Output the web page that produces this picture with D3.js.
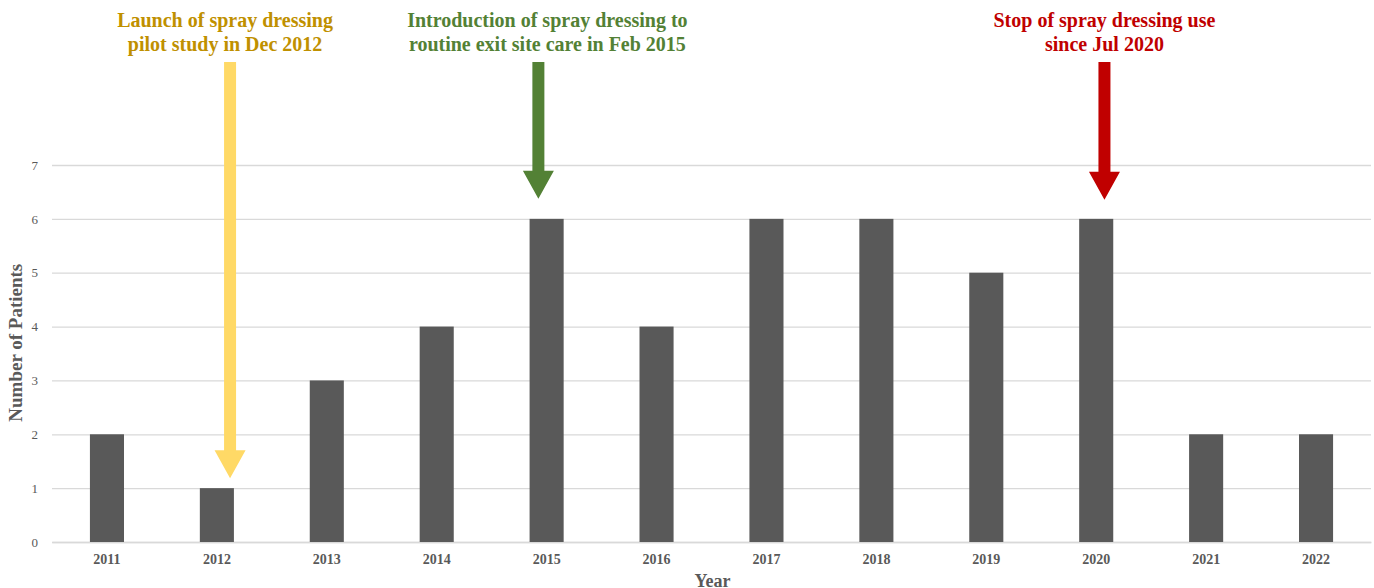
<!DOCTYPE html>
<html lang="en">
<head>
    <meta charset="UTF-8">
    <title>Number of Patients by Year</title>
    <style>
        html, body { margin: 0; padding: 0; background: #fff; overflow: hidden; }
        svg { display: block; font-family: "Liberation Serif", "Times New Roman", serif; }
    </style>
</head>
<body>
    <div id="chart"></div>
    <script src="https://d3js.org/d3.v7.min.js"></script>
    <script>
        // 数据
        const years = ['2011', '2012', '2013', '2014', '2015', '2016', '2017', '2018', '2019', '2020', '2021', '2022'];
        const patients = [2, 1, 3, 4, 6, 4, 6, 6, 5, 6, 2, 2];
        const yTicks = [0, 1, 2, 3, 4, 5, 6, 7];

        // annotations: year the arrow points at, first / second text line, colours
        const noteYears = ['2012', '2015', '2020'];
        const noteLine1 = ['Launch of spray dressing', 'Introduction of spray dressing to', 'Stop of spray dressing use'];
        const noteLine2 = ['pilot study in Dec 2012', 'routine exit site care in Feb 2015', 'since Jul 2020'];
        const noteTextColor = ['#bf9000', '#538135', '#c00000'];
        const noteArrowColor = ['#ffd966', '#538135', '#c00000'];

        const width = 1374, height = 588;
        const margin = { top: 165, right: 3, bottom: 46, left: 52 };
        const innerWidth = width - margin.left - margin.right;
        const innerHeight = height - margin.top - margin.bottom;

        const svg = d3.select('#chart').append('svg')
            .attr('width', width)
            .attr('height', height);

        const g = svg.append('g')
            .attr('transform', `translate(${margin.left}, ${margin.top})`);

        const xScale = d3.scaleBand()
            .domain(years)
            .range([0, innerWidth])
            .paddingInner(0.69)
            .paddingOuter(0.345);

        const yScale = d3.scaleLinear()
            .domain([0, 7])
            .range([innerHeight, 0]);

        // 网格线 + y 轴
        const yAxis = d3.axisLeft(yScale)
            .tickValues(yTicks)
            .tickSize(-innerWidth)
            .tickPadding(14)
            .tickFormat(d3.format('d'));

        const yAxisGroup = g.append('g').call(yAxis);
        yAxisGroup.select('.domain').remove();
        yAxisGroup.selectAll('.tick line').attr('stroke', '#d9d9d9').attr('stroke-width', 1.3);
        yAxisGroup.selectAll('.tick text')
            .attr('fill', '#595959')
            .attr('font-size', '13px')
            .attr('font-family', '"Liberation Serif", serif');

        // x 轴
        const xAxis = d3.axisBottom(xScale).tickSize(0).tickPadding(12);
        const xAxisGroup = g.append('g')
            .attr('transform', `translate(0, ${innerHeight})`)
            .call(xAxis);
        xAxisGroup.select('.domain').attr('stroke', '#d9d9d9').attr('stroke-width', 1.3);
        xAxisGroup.selectAll('.tick text')
            .attr('fill', '#595959')
            .attr('font-size', '14px')
            .attr('font-weight', 'bold')
            .attr('font-family', '"Liberation Serif", serif');

        // 柱子
        g.selectAll('.bar').data(years).join('rect')
            .attr('class', 'bar')
            .attr('x', d => xScale(d))
            .attr('y', (d, i) => yScale(patients[i]))
            .attr('width', xScale.bandwidth())
            .attr('height', (d, i) => innerHeight - yScale(patients[i]))
            .attr('fill', '#595959');

        // 轴标题
        g.append('text')
            .text('Year')
            .attr('x', innerWidth / 2 + 1)
            .attr('y', innerHeight + 45)
            .attr('text-anchor', 'middle')
            .attr('fill', '#595959')
            .attr('font-size', '18px')
            .attr('font-weight', 'bold');

        g.append('text')
            .text('Number of Patients')
            .attr('transform', `translate(${-30}, ${yScale(3.7)}) rotate(-90)`)
            .attr('text-anchor', 'middle')
            .attr('fill', '#595959')
            .attr('font-size', '19px')
            .attr('font-weight', 'bold');

        // 注释箭头
        const step = xScale.step();
        const arrowShift = [0.12, -0.075, 0.075];   // fraction of a band step, month within the year
        const tipGap = [10, 20, 19];
        const textShift = [-5, 9, 0];
        const shaftW = 12, headW = 31, headH = 28;
        const arrowTop = 62 - margin.top;

        noteYears.forEach((yr, i) => {
            const cx = xScale(yr) + xScale.bandwidth() / 2 + arrowShift[i] * step;
            const tipY = yScale(patients[years.indexOf(yr)]) - tipGap[i];
            const headY = tipY - headH;
            const path = d3.path();
            path.moveTo(cx - shaftW / 2, arrowTop);
            path.lineTo(cx + shaftW / 2, arrowTop);
            path.lineTo(cx + shaftW / 2, headY);
            path.lineTo(cx + headW / 2, headY);
            path.lineTo(cx, tipY);
            path.lineTo(cx - headW / 2, headY);
            path.lineTo(cx - shaftW / 2, headY);
            path.closePath();
            g.append('path')
                .attr('d', path.toString())
                .attr('fill', noteArrowColor[i]);

            const tx = cx + textShift[i];
            const t = g.append('text')
                .attr('text-anchor', 'middle')
                .attr('fill', noteTextColor[i])
                .attr('font-size', '20px')
                .attr('font-weight', 'bold');
            t.append('tspan').attr('x', tx).attr('y', 27 - margin.top).text(noteLine1[i]);
            t.append('tspan').attr('x', tx).attr('y', 51 - margin.top).text(noteLine2[i]);
        });
    </script>
</body>
</html>
